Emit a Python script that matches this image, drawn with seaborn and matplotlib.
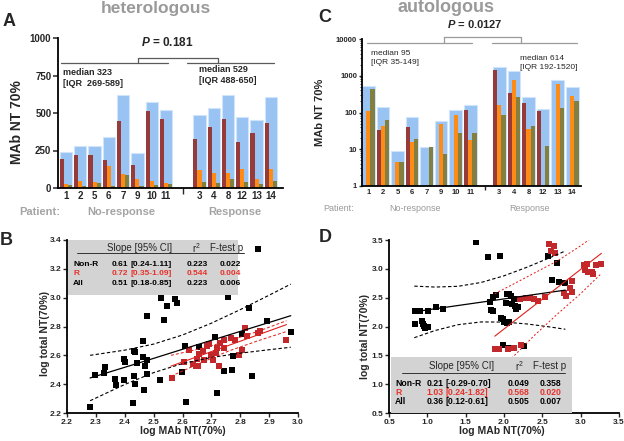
import numpy as np
import pandas as pd
import matplotlib
matplotlib.use("Agg")
import matplotlib.pyplot as plt
import seaborn as sns
from matplotlib.patches import Rectangle
from matplotlib.ticker import LogLocator, NullFormatter, FixedLocator, FixedFormatter

nan = np.nan

# ---------------- data ----------------
patients_nonresp = ["1", "2", "5", "6", "7", "9", "10", "11"]
patients_resp = ["3", "4", "8", "12", "13", "14"]

# Panel A (heterologous), patient order as above
het_total = [239, 277, 283, 343, 620, 232, 575, 522, 485, 535, 617, 471, 456, 606]
het_red = [192, 217, 217, 184, 447, 155, 511, 460, 327, 405, 460, 310, 365, 431]
het_orange = [29, 44, 38, 146, 91, 62, 44, 33, 117, 100, 100, 124, 62, 128]
het_olive = [18, 13, 33, 13, 86, 13, 18, 29, 40, 33, 58, 40, 24, 44]

# Panel C (autologous)
auto_total = [520, 140, 9, 76, 11.3, 58, 116, 162, 1690, 1340, 256, 123, 750, 480]
auto_red = [nan, 34, nan, 40.6, nan, nan, nan, 116, 1420, 330, 180, 111, nan, nan]
auto_orange = [111, 43, 4.6, 15.8, nan, 50, 85, 18.4, 158, 762, 35, nan, 607, 279]
auto_olive = [424, 62, 4.5, 19.5, 11.3, 7.3, 28.5, 28.5, 85, 262, 44, 12.3, 134, 204]

# Panel B scatter (heterologous): non-responders (black), responders (red)
B_nonR_x = [2.860, 2.525, 2.547, 2.574, 2.582, 2.476, 2.537, 2.757, 2.832, 2.892, 2.976,
            2.807, 2.713, 2.464, 2.608, 2.657, 2.432, 2.435, 2.398, 2.400, 2.332, 2.327,
            2.296, 2.442, 2.462, 2.476, 2.470, 2.366, 2.368, 2.397, 2.433, 2.435, 2.476,
            2.466, 2.522, 2.597, 2.279, 2.429, 2.612, 2.719, 2.774, 2.742, 2.771, 2.839]
B_nonR_y = [3.335, 2.996, 2.945, 2.991, 2.966, 2.876, 2.846, 3.003, 2.927, 2.835, 2.765,
            2.749, 2.728, 2.701, 2.666, 2.655, 2.631, 2.620, 2.576, 2.553, 2.516, 2.477,
            2.461, 2.546, 2.585, 2.569, 2.528, 2.435, 2.394, 2.431, 2.454, 2.401, 2.468,
            2.359, 2.426, 2.481, 2.241, 2.271, 2.276, 2.336, 2.592, 2.493, 2.500, 2.458]
B_R_x = [2.562, 2.605, 2.623, 2.638, 2.646, 2.655, 2.649, 2.657, 2.672, 2.684, 2.693,
         2.698, 2.704, 2.715, 2.721, 2.730, 2.742, 2.745, 2.768, 2.782, 2.796, 2.805,
         2.823, 2.817, 2.860, 2.867, 2.960, 2.727, 2.676]
B_R_y = [2.442, 2.553, 2.638, 2.541, 2.523, 2.523, 2.574, 2.611, 2.632, 2.666, 2.680,
         2.604, 2.569, 2.615, 2.650, 2.689, 2.708, 2.650, 2.719, 2.708, 2.604, 2.638,
         2.731, 2.788, 2.758, 2.770, 2.708, 2.528, 2.569]
# fitted lines
B_fit_x = [2.28, 2.4, 2.5, 2.6, 2.7, 2.8, 2.9, 2.975]
B_fit_y = [2.443, 2.517, 2.579, 2.642, 2.704, 2.766, 2.828, 2.875]
B_fit_hi = [2.60, 2.636, 2.678, 2.741, 2.823, 2.917, 3.017, 3.094]
B_fit_lo = [2.285, 2.398, 2.480, 2.543, 2.585, 2.615, 2.639, 2.656]
B_rfit_x = [2.56, 2.66, 2.76, 2.86, 2.96]
B_rfit_y = [2.525, 2.597, 2.669, 2.741, 2.813]
B_rfit_hi = [2.60, 2.645, 2.70, 2.765, 2.84]
B_rfit_lo = [2.455, 2.545, 2.63, 2.70, 2.765]

# Panel D scatter (autologous)
D_nonR_x = [1.635, 1.785, 1.944, 2.571, 2.688, 2.627, 2.722, 2.799, 0.840, 0.900, 1.003,
            1.119, 1.205, 0.844, 0.925, 0.938, 0.960, 0.968, 1.003, 1.819, 1.862, 1.897,
            1.828, 1.862, 1.961, 1.983, 2.004, 2.064, 2.043, 2.034, 2.069, 2.086, 2.129,
            2.026, 2.107, 2.142, 2.185, 2.155, 1.991, 2.069, 2.262]
D_nonR_y = [3.459, 3.199, 3.222, 3.222, 3.095, 2.805, 2.776, 2.747, 2.266, 2.266, 2.266,
            2.342, 2.301, 2.035, 2.098, 2.052, 2.012, 1.977, 1.994, 2.429, 2.515, 2.539,
            2.284, 2.266, 2.156, 2.122, 2.081, 2.081, 2.064, 2.556, 2.556, 2.527, 2.469,
            2.411, 2.388, 2.353, 2.330, 2.295, 1.676, 1.635, 1.658]
D_R_x = [2.584, 2.658, 2.615, 2.670, 2.881, 2.860, 2.885, 2.778, 2.808, 3.044, 3.087,
         3.057, 3.096, 3.152, 3.195, 3.259, 3.165, 2.215, 2.292, 2.335, 2.387, 2.443,
         2.537, 1.884, 1.935, 2.056, 2.133, 2.228]
D_R_y = [3.430, 3.402, 3.309, 3.268, 2.788, 2.672, 2.602, 2.573, 2.533, 3.066, 3.077,
         2.979, 2.950, 2.938, 3.066, 3.083, 2.915, 2.475, 2.498, 2.486, 2.469, 2.446,
         2.504, 1.606, 1.606, 1.606, 1.629, 1.676]
D_fit_x = [0.83, 1.1, 1.4, 1.7, 2.0, 2.3, 2.6, 2.8]
D_fit_y = [2.255, 2.307, 2.364, 2.421, 2.478, 2.536, 2.593, 2.631]
D_fit_hi = [2.70, 2.684, 2.697, 2.763, 2.879, 3.028, 3.194, 3.31]
D_fit_lo = [1.806, 1.93, 2.031, 2.079, 2.077, 2.044, 1.992, 1.952]
D_rfit_x = [1.88, 2.1, 2.4, 2.7, 3.0, 3.27]
D_rfit_y = [1.832, 2.06, 2.37, 2.68, 2.99, 3.268]
D_rfit_hi = [2.57, 2.72, 2.93, 3.14, 3.40, 3.66]
D_rfit_lo = [1.15, 1.45, 1.85, 2.22, 2.57, 2.92]

tbl_rows = ["Non-R", "R", "All"]
B_slope = ["0.61", "0.72", "0.51"]
B_ci = ["[0.24-1.11]", "[0.35-1.09]", "[0.18-0.85]"]
B_r2 = ["0.223", "0.544", "0.223"]
B_p = ["0.022", "0.004", "0.006"]
D_slope = ["0.21", "1.03", "0.36"]
D_ci = ["[-0.29-0.70]", "[0.24-1.82]", "[0.12-0.61]"]
D_r2 = ["0.049", "0.568", "0.505"]
D_p = ["0.358", "0.020", "0.007"]

# ---------------- style ----------------
sns.set_style("ticks")
plt.rcParams["font.family"] = ["Liberation Sans", "DejaVu Sans"]
plt.rcParams["mathtext.fontset"] = "custom"
plt.rcParams["mathtext.rm"] = "Liberation Sans"
plt.rcParams["mathtext.it"] = "Liberation Sans:italic:bold"
plt.rcParams["mathtext.bf"] = "Liberation Sans:bold"
plt.rcParams["mathtext.default"] = "regular"

BLUE = "#99c3f3"
BLUE_EDGE = "#d0e5fb"
MAROON = "#973a3a"
ORANGE = "#ff8b17"
OLIVE = "#827f40"
RED_PT = "#c0282c"
RED_LN = "#e0201c"
RED_TX = "#e8312a"
GRAY_T = "#9a9a9a"

W, H = 624, 441
fig = plt.figure(figsize=(W / 100, H / 100), dpi=100)


def rect(l, t, r, b):
    return [l / W, 1 - b / H, (r - l) / W, (b - t) / H]


axA = fig.add_axes(rect(58, 38, 283, 188))
axC = fig.add_axes(rect(362, 39, 581, 186))
axB = fig.add_axes(rect(67, 240, 298, 413))
axD = fig.add_axes(rect(389, 240, 619, 413))

for ax in (axA, axB, axC, axD):
    for s in ("top", "right"):
        ax.spines[s].set_visible(False)
    for s in ("left", "bottom"):
        ax.spines[s].set_linewidth(1.3)
        ax.spines[s].set_color("black")


def draw_bars(ax, gap_start, total, red, orange, olive):
    n1 = len(patients_nonresp)
    n2 = len(patients_resp)
    pos = list(np.arange(n1, dtype=float)) + list(gap_start + np.arange(n2, dtype=float))
    n = len(pos)
    sns.barplot(x=pos, y=total, native_scale=True, width=0.86, color=BLUE, saturation=1,
                edgecolor=BLUE_EDGE, linewidth=0.8, errorbar=None, ax=ax)
    long = pd.DataFrame({"pos": pos * 3,
                         "value": list(red) + list(orange) + list(olive),
                         "assay": ["maroon"] * n + ["orange"] * n + ["olive"] * n})
    sns.barplot(data=long, x="pos", y="value", hue="assay",
                hue_order=["maroon", "orange", "olive"],
                palette=[MAROON, ORANGE, OLIVE], native_scale=True, dodge=True,
                width=0.86, saturation=1, linewidth=0, errorbar=None, legend=False, ax=ax)
    ax.set_xlabel("")
    ax.set_ylabel("")
    ax.xaxis.set_major_locator(FixedLocator(pos))
    ax.xaxis.set_major_formatter(FixedFormatter(patients_nonresp + patients_resp))
    gap = (pos[n1 - 1] + pos[n1]) / 2
    ax.set_xticks([gap], minor=True)
    return pos


# ---------------- Panel A ----------------
posA = draw_bars(axA, 9.35, het_total, het_red, het_orange, het_olive)
axA.set_xlim(-0.56, 15.2)
axA.set_ylim(0, 1000)
axA.set_yticks([0, 250, 500, 750, 1000])
axA.tick_params(axis="x", which="major", length=0, pad=2, labelsize=7)
axA.tick_params(axis="x", which="minor", length=4, width=1)
axA.tick_params(axis="y", length=3.3, width=1.1, pad=1.5, labelsize=7)
for lbl in axA.get_xticklabels() + axA.get_yticklabels():
    lbl.set_fontweight("bold")
axA.text(-0.18, 0.44, "MAb NT 70%", transform=axA.transAxes, rotation=90,
         ha="center", va="center", fontsize=10, fontweight="bold")
lk = dict(transform=axA.transAxes, color="#5a5a5a", lw=0.9, clip_on=False)
axA.plot([0.013, 0.489], [0.833, 0.833], **lk)
axA.plot([0.573, 0.960], [0.833, 0.833], **lk)
axA.plot([0.356, 0.356, 0.711, 0.711], [0.833, 0.867, 0.867, 0.833], **lk)
axA.text(0.484, 0.967, r"$\mathit{P}$ = 0.181", transform=axA.transAxes, ha="center",
         va="center", fontsize=8.5, fontweight="bold")
axA.text(0.022, 0.80, "median 323\n[IQR  269-589]", transform=axA.transAxes, ha="left",
         va="top", fontsize=6.5, fontweight="bold", linespacing=1.25)
axA.text(0.627, 0.82, "median 529\n[IQR 488-650]", transform=axA.transAxes, ha="left",
         va="top", fontsize=6.5, fontweight="bold", linespacing=1.25)

# ---------------- Panel C ----------------
axC.set_yscale("log")
posC = draw_bars(axC, 9.0, auto_total, auto_red, auto_orange, auto_olive)
axC.set_yscale("log")
axC.set_xlim(-0.43, 14.6)
axC.set_ylim(1, 10000)
axC.yaxis.set_major_locator(FixedLocator([1, 10, 100, 1000, 10000]))
axC.yaxis.set_major_formatter(FixedFormatter(["1", "10", "100", "1000", "10000"]))
axC.yaxis.set_minor_locator(LogLocator(base=10, subs=np.arange(2, 10)))
axC.yaxis.set_minor_formatter(NullFormatter())
axC.tick_params(axis="x", which="major", length=0, pad=2, labelsize=5.5)
axC.tick_params(axis="x", which="minor", length=3, width=1)
axC.tick_params(axis="y", which="major", length=2.5, width=1, pad=1, labelsize=5.5)
axC.tick_params(axis="y", which="minor", length=1.2, width=0.6)
for lbl in axC.get_xticklabels() + axC.get_yticklabels():
    lbl.set_fontweight("bold")
axC.text(-0.194, 0.50, "MAb NT 70%", transform=axC.transAxes, rotation=90,
         ha="center", va="center", fontsize=8, fontweight="bold")
lk = dict(transform=axC.transAxes, color="#9a9a9a", lw=0.9, clip_on=False)
axC.plot([0.023, 0.502], [0.973, 0.973], **lk)
axC.plot([0.594, 0.982], [0.973, 0.973], **lk)
axC.plot([0.374, 0.374, 0.726, 0.726], [0.973, 1.014, 1.014, 0.973], **lk)
axC.text(0.516, 1.102, r"$\mathit{P}$ = 0.0127", transform=axC.transAxes, ha="center",
         va="center", fontsize=8, fontweight="bold")
axC.text(0.041, 0.925, "median 95\n[IQR 35-149]", transform=axC.transAxes, ha="left",
         va="top", fontsize=6, linespacing=1.3)
axC.text(0.721, 0.891, "median 614\n[IQR 192-1520]", transform=axC.transAxes, ha="left",
         va="top", fontsize=6, linespacing=1.3)


# ---------------- scatter panels ----------------
def draw_table(ax, box, hdr_y, line_y, line_x, hdr_x, row_y, col_x, fs_row,
               slope, ci, r2, p):
    ax.add_patch(Rectangle((box[0], box[1]), box[2] - box[0], box[3] - box[1],
                           transform=ax.transAxes, facecolor="#d3d3d3",
                           edgecolor="none", zorder=5, clip_on=False))
    tk = dict(transform=ax.transAxes, ha="left", va="center", zorder=6, fontsize=7)
    ax.text(hdr_x[0], hdr_y, "Slope [95% CI]", **tk)
    ax.text(hdr_x[1], hdr_y, "r$^2$", **tk)
    ax.text(hdr_x[2], hdr_y, "F-test p", **tk)
    ax.plot(line_x, [line_y, line_y], transform=ax.transAxes, color="#333333",
            lw=0.7, zorder=6, clip_on=False)
    for i, name in enumerate(tbl_rows):
        c = RED_TX if name == "R" else "black"
        rk = dict(transform=ax.transAxes, ha="left", va="center", zorder=6,
                  fontsize=fs_row, fontweight="bold", color=c)
        for x, s in zip(col_x, [name, slope[i], ci[i], r2[i], p[i]]):
            ax.text(x, row_y[i], s, **rk)


def draw_lines(ax, fx, fy, fhi, flo, color, lw, dash):
    sns.lineplot(x=fx, y=fy, color=color, lw=lw, estimator=None, sort=False, ax=ax, zorder=3)
    for yy in (fhi, flo):
        sns.lineplot(x=fx, y=yy, color=color, lw=lw * 0.9, linestyle=(0, dash),
                     estimator=None, sort=False, ax=ax, zorder=3)


def style_scatter_axes(ax):
    ax.tick_params(length=3, width=1, pad=1.2, labelsize=6)
    for lbl in ax.get_xticklabels() + ax.get_yticklabels():
        lbl.set_fontweight("bold")


# Panel B
sns.scatterplot(x=B_nonR_x, y=B_nonR_y, marker="s", s=15, color="black", linewidth=0,
                ax=axB, zorder=2)
sns.scatterplot(x=B_R_x, y=B_R_y, marker="s", s=17, color=RED_PT, linewidth=0,
                ax=axB, zorder=2)
draw_lines(axB, B_fit_x, B_fit_y, B_fit_hi, B_fit_lo, "black", 0.9, (3, 2))
draw_lines(axB, B_rfit_x, B_rfit_y, B_rfit_hi, B_rfit_lo, RED_LN, 0.8, (3, 2))
axB.set_xlim(2.2, 3.0)
axB.set_ylim(2.2, 3.4)
axB.set_xticks(np.round(np.arange(2.2, 3.01, 0.1), 1))
axB.set_yticks(np.round(np.arange(2.2, 3.41, 0.2), 1))
axB.xaxis.set_major_formatter(plt.FormatStrFormatter("%.1f"))
axB.yaxis.set_major_formatter(plt.FormatStrFormatter("%.1f"))
style_scatter_axes(axB)
axB.text(0.5, -0.105, "log MAb NT(70%)", transform=axB.transAxes, ha="center",
         va="center", fontsize=7.5, fontweight="bold")
axB.text(-0.095, 0.46, "log total NT(70%)", transform=axB.transAxes, rotation=90,
         ha="center", va="center", fontsize=7.5, fontweight="bold")
draw_table(axB, (0.004, 0.682, 0.740, 1.0), 0.954, 0.925, [0.043, 0.766],
           [0.173, 0.541, 0.619], [0.861, 0.809, 0.751],
           [0.026, 0.195, 0.273, 0.519, 0.662], 6, B_slope, B_ci, B_r2, B_p)

# Panel D
sns.scatterplot(x=D_nonR_x, y=D_nonR_y, marker="s", s=15, color="black", linewidth=0,
                ax=axD, zorder=2)
sns.scatterplot(x=D_R_x, y=D_R_y, marker="s", s=17, color=RED_PT, linewidth=0,
                ax=axD, zorder=2)
draw_lines(axD, D_fit_x, D_fit_y, D_fit_hi, D_fit_lo, "black", 0.9, (3, 2))
draw_lines(axD, D_rfit_x, D_rfit_y, D_rfit_hi, D_rfit_lo, RED_LN, 0.8, (2, 2))
axD.set_xlim(0.5, 3.5)
axD.set_ylim(0.5, 3.5)
axD.set_xticks(np.arange(0.5, 3.51, 0.5))
axD.set_yticks(np.arange(0.5, 3.51, 0.5))
axD.xaxis.set_major_formatter(plt.FormatStrFormatter("%.1f"))
axD.yaxis.set_major_formatter(plt.FormatStrFormatter("%.1f"))
style_scatter_axes(axD)
axD.text(0.49, -0.105, "log MAb NT(70%)", transform=axD.transAxes, ha="center",
         va="center", fontsize=7.5, fontweight="bold")
axD.text(-0.104, 0.445, "log total NT(70%)", transform=axD.transAxes, rotation=90,
         ha="center", va="center", fontsize=7.5, fontweight="bold")
draw_table(axD, (0.009, 0.0, 0.794, 0.324), 0.272, 0.231, [0.056, 0.764],
           [0.176, 0.549, 0.627], [0.173, 0.121, 0.064],
           [0.026, 0.165, 0.247, 0.515, 0.657], 6.2, D_slope, D_ci, D_r2, D_p)

# ---------------- figure texts ----------------
fig.text(156 / W, 1 - 12.5 / H, "heterologous", ha="center", va="baseline", fontsize=12.5,
         fontweight="bold", color=GRAY_T)
fig.text(446 / W, 1 - 12.5 / H, "autologous", ha="center", va="baseline", fontsize=13,
         fontweight="bold", color=GRAY_T)
for letter, (x, y) in {"A": (9, 21), "C": (325, 18), "B": (6, 240), "D": (325, 238)}.items():
    fig.text(x / W, 1 - y / H, letter, ha="center", va="center", fontsize=13,
             fontweight="bold")

gk = dict(va="center", ha="center", color="#a4a4a4", fontsize=8, fontweight="bold")
fig.text(39.5 / W, 1 - 212 / H, "Patient:", **gk)
fig.text(121 / W, 1 - 212 / H, "No-response", **gk)
fig.text(235 / W, 1 - 212 / H, "Response", **gk)
gk = dict(va="center", ha="center", color="#9a9a9a", fontsize=6.5)
fig.text(339 / W, 1 - 209 / H, "Patient:", **gk)
fig.text(415 / W, 1 - 209 / H, "No-response", **gk)
fig.text(530 / W, 1 - 209 / H, "Response", **gk)

fig.savefig("out.png", dpi=100)
